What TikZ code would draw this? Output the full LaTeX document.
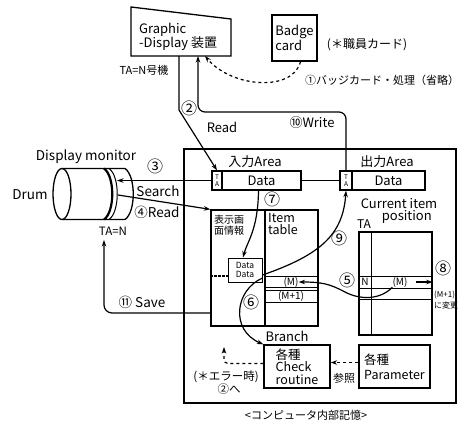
\documentclass[tikz,border=0pt]{standalone}
\usepackage{fontspec}
\setmainfont{Noto Sans CJK JP}
\usetikzlibrary{arrows.meta, positioning}

\begin{document}
\begin{tikzpicture}[
    x=1pt, y=-1pt,
    box/.style={draw, line width=1.3pt, inner sep=0pt},
    tabox/.style={box, minimum width=10pt, minimum height=19pt, font=\fontsize{6.5}{6.5}\selectfont, align=center},
    lbl/.style={inner sep=1pt, font=\fontsize{13}{14}\selectfont},
    sml/.style={inner sep=1pt, font=\fontsize{11}{12}\selectfont, align=left},
    circ/.style={inner sep=0pt, font=\fontsize{16}{16}\selectfont},
    row/.style={inner sep=0pt, font=\fontsize{10}{10}\selectfont},
    arrow/.style={-{Stealth[length=6.5pt, width=4.5pt]}, line width=1.2pt}]

    \useasboundingbox (0,0) rectangle (462,426);

    % Graphic display
    \draw[line width=1.3pt] (131,7) -- (231,19) -- (231,56) -- (131,56) -- cycle;
    \node[lbl, align=left, anchor=west] (gdisp) at (138,37) {Graphic\\-Display 装置};
    \coordinate (gdA) at (179,56);
    \coordinate (gdB) at (198,56);
    \coordinate (gdC) at (205,56);

    \node[box, minimum width=45pt, minimum height=46pt, align=left, font=\fontsize{13}{13}\selectfont] (badge) at (294.5,38) {Badge\\card};
    \node[lbl, font=\fontsize{12}{13}\selectfont] (badgelbl) at (367,45) {(＊職員カード)};
    \node[lbl, font=\fontsize{11}{12}\selectfont] (badgestep) at (382,80) {①バッジカード・処理（省略）};
    \node[lbl, font=\fontsize{11}{12}\selectfont] (gdta) at (144,70) {TA=N号機};

    % drum
    \draw[line width=1.3pt] (62,194) ellipse [x radius=9pt, y radius=25.5pt];
    \draw[line width=1.3pt] (62,168.5) -- (125,168.5) .. controls (136,176) and (136,212) .. (125,219.5) -- (62,219.5);
    \draw[line width=2.2pt] (104,168.5) .. controls (115,176) and (115,212) .. (104,219.5);
    \draw[line width=1pt] (109,168.5) .. controls (120,176) and (120,212) .. (109,219.5);
    \node[lbl, font=\fontsize{13.5}{14}\selectfont] (dmon) at (86,157) {Display monitor};
    \node[lbl, font=\fontsize{13.5}{14}\selectfont] (drum) at (30,195) {Drum};
    \node[lbl, font=\fontsize{11.5}{12}\selectfont] (drumta) at (113,231) {TA=N};
    \coordinate (drumS) at (117,180.5);
    \coordinate (drumR) at (118,195);
    \coordinate (saveend) at (104,240);

    % computer memory
    \draw[line width=1.6pt] (184,149) rectangle (456,403);
    \node[lbl, font=\fontsize{11}{12}\selectfont] (memlbl) at (306,415) {<コンピュータ内部記憶>};

    % input / output areas
    \node[tabox] (inTA) at (217,180.5) {T\\A};
    \node[box, minimum width=79pt, minimum height=19pt, font=\fontsize{13}{13}\selectfont] (inData) at (261.5,180.5) {Data};
    \node[lbl] (inlbl) at (255,162) {入力Area};
    \node[tabox, minimum width=12pt] (outTA) at (346,180.5) {T\\A};
    \node[box, minimum width=73pt, minimum height=19pt, font=\fontsize{13}{13}\selectfont] (outData) at (388.5,180.5) {Data};
    \node[lbl] (outlbl) at (387,162) {出力Area};
    \draw[line width=1.2pt] (inData.east) -- (outTA.west);

    % display info and item table
    \node[box, minimum width=54pt, minimum height=116pt] (dispinfo) at (238,268) {};
    \node[box, minimum width=53pt, minimum height=116pt] (itemtab) at (291.5,268) {};
    \node[sml, font=\fontsize{10}{11}\selectfont, anchor=north west] (displbl) at (213,214) {表示画\\面情報};
    \node[sml, font=\fontsize{12.5}{12}\selectfont, anchor=north west] (itemlbl) at (267,212) {Item\\table};
    \foreach \yy in {276,287,290,302}
        \draw[line width=1pt] (265,\yy) -- (318,\yy);
    \node[row] (itemM) at (291,282) {(M)};
    \node[row] (itemM1) at (291,296) {(M+1)};
    \node[box, line width=1pt, minimum width=34pt, minimum height=24pt, align=center, font=\fontsize{8.5}{9}\selectfont] (datadoc) at (245,270) {Data\\Data};
    \coordinate (bar) at ([yshift=-6pt]datadoc.west);
    \draw[line width=2.4pt, dash pattern=on 3pt off 1pt] (dispinfo.west |- bar) -- (bar);

    % current item position
    \node[box, minimum width=73pt, minimum height=103pt] (cip) at (395.5,283.5) {};
    \draw[line width=1pt] (371,232) -- (371,335);
    \foreach \yy in {276,288,299}
        \draw[line width=1pt] (359,\yy) -- (432,\yy);
    \node[row] (cipN) at (365,282) {N};
    \node[row] (cipM) at (400,282) {(M)};
    \node[sml, font=\fontsize{13}{12.5}\selectfont, align=center] (ciplbl) at (399,211) {Current item\\\hspace*{1.2em}position};
    \node[sml, font=\fontsize{12}{12}\selectfont] (cipta) at (364,224) {TA};

    % check routine and parameter
    \node[box, minimum width=66pt, minimum height=43pt, align=left, font=\fontsize{12.5}{12.5}\selectfont] (checkr) at (297,366.5) {各種\\Check\\routine};
    \node[box, minimum width=71pt, minimum height=43pt, align=left, font=\fontsize{12.5}{15}\selectfont] (param) at (394.5,366.5) {各種\\Parameter};
    \node[lbl] (branch) at (287,336) {Branch};
    \node[sml] (refer) at (344,378) {参照};
    \node[sml, font=\fontsize{11.5}{12}\selectfont] (errlbl) at (226,377) {(＊エラー時)};
    \node[sml, font=\fontsize{11.5}{12}\selectfont] (errto) at (229,389) {②へ};
    \coordinate (errend) at (224,347);

    % connectors
    \draw[arrow, dashed] ([xshift=6pt]badge.south) .. controls (293,92) and (232,88) .. (gdC);
    \draw[arrow] (gdA) -- (179,110) -- (inTA.north);
    \node[circ] (n2) at (189,108) {②};
    \node[lbl] (readlbl) at (222,127) {Read};
    \draw[arrow, rounded corners=7pt] (outTA.north) |- (198,112) -- (gdB);
    \node[lbl] (writelbl) at (312,123) {⑩Write};
    \draw[arrow] (inTA.west) -- (drumS);
    \node[circ] (n3) at (155,166) {③};
    \node[lbl, font=\fontsize{13.5}{14}\selectfont] (search) at (158,191) {Search};
    \draw[arrow] (drumR) -- (dispinfo.north west);
    \node[lbl, font=\fontsize{13.5}{14}\selectfont] (read4) at (157,212) {④Read};
    \draw[arrow] ([xshift=-3pt]inData.south) .. controls (258,230) and (247,242) .. ([xshift=-2pt]datadoc.north);
    \node[circ] (n7) at (272,199) {⑦};
    \draw[arrow] ([yshift=-5pt]datadoc.east) .. controls (320,255) and (343,235) .. (outTA.south);
    \node[circ] (n9) at (339,238) {⑨};
    \draw[arrow] ([yshift=-8pt]datadoc.east) .. controls (235,290) and (230,330) .. (checkr.north west);
    \node[circ] (n6) at (251,302) {⑥};
    \draw[arrow] (cipM.south west) .. controls (380,300) and (360,300) .. (345,292) .. controls (330,284) and (322,282) .. (itemM.east);
    \node[circ] (n5) at (347,280) {⑤};
    \draw[arrow] ([xshift=8pt]cipM.east) -- (cipM -| cip.east);
    \node[circ] (n8) at (443,268) {⑧};
    \node[sml, font=\fontsize{8}{11}\selectfont, align=left, anchor=west, inner sep=0pt] (tom1) at (434,300) {(M+1)\\に変更};
    \draw[arrow, dashed] ([yshift=4pt]param.west) -- ([yshift=4pt]checkr.east);
    \draw[arrow, dashed, rounded corners=4pt] ([yshift=3pt]checkr.west) -| (errend);
    \draw[arrow, rounded corners=8pt] (dispinfo.west |- 0,313) -| (saveend);
    \node[lbl, font=\fontsize{13.5}{14}\selectfont] (savelbl) at (142,302) {⑪ Save};
\end{tikzpicture}
\end{document}
